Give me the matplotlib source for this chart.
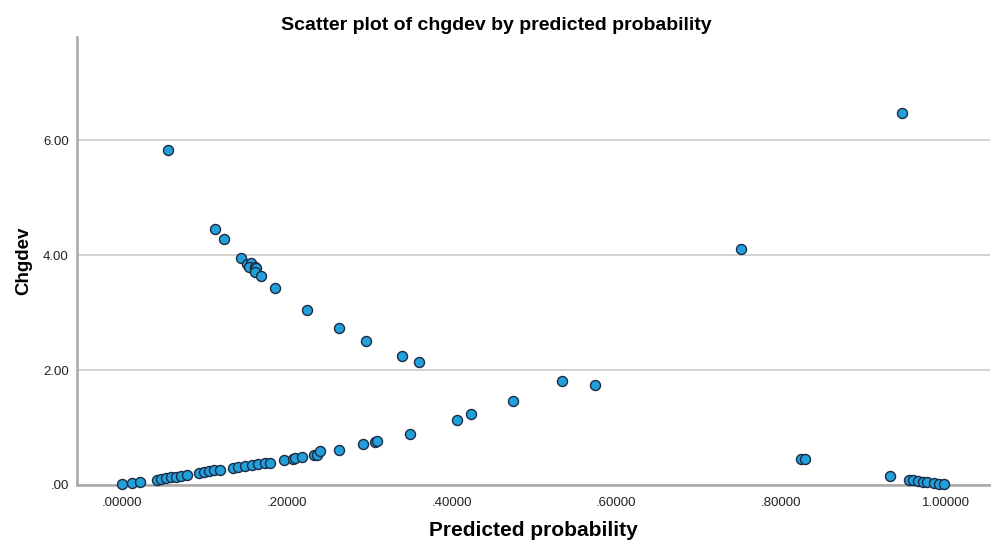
import matplotlib.pyplot as plt

plt.rcParams["font.family"] = ["Liberation Sans", "DejaVu Sans"]

# predicted probability / chgdev pairs
prob_low = [0.000, 0.012, 0.022, 0.042, 0.047, 0.053, 0.059, 0.065, 0.071, 0.079,
            0.093, 0.099, 0.105, 0.111, 0.119, 0.135, 0.141, 0.149, 0.157, 0.165,
            0.173, 0.179, 0.197, 0.207, 0.210, 0.218, 0.233, 0.236, 0.240, 0.263,
            0.292, 0.307, 0.309, 0.349, 0.406, 0.424, 0.474, 0.534, 0.574]
chg_low = [0.01, 0.03, 0.06, 0.09, 0.10, 0.13, 0.14, 0.145, 0.16, 0.17,
           0.20, 0.22, 0.24, 0.26, 0.26, 0.30, 0.32, 0.33, 0.34, 0.36,
           0.38, 0.39, 0.435, 0.457, 0.464, 0.48, 0.53, 0.52, 0.60, 0.61,
           0.71, 0.75, 0.76, 0.89, 1.13, 1.23, 1.46, 1.81, 1.74]

prob_high = [0.0559, 0.113, 0.123, 0.144, 0.151, 0.156, 0.154, 0.161, 0.162, 0.161,
             0.168, 0.186, 0.224, 0.263, 0.296, 0.340, 0.360]
chg_high = [5.84, 4.45, 4.29, 3.95, 3.84, 3.87, 3.80, 3.80, 3.78, 3.71,
            3.63, 3.43, 3.04, 2.73, 2.50, 2.25, 2.14]

prob_right = [0.752, 0.947, 0.824, 0.829, 0.932, 0.956, 0.960, 0.966, 0.972,
              0.978, 0.986, 0.992, 0.998]
chg_right = [4.10, 6.47, 0.46, 0.45, 0.16, 0.09, 0.09, 0.075, 0.06,
             0.05, 0.03, 0.02, 0.01]

x = prob_low + prob_high + prob_right
y = chg_low + chg_high + chg_right

xticks = [0.0, 0.2, 0.4, 0.6, 0.8, 1.0]
xtick_labels = [".00000", ".20000", ".40000", ".60000", ".80000", "1.00000"]
yticks = [0, 2, 4, 6]
ytick_labels = [".00", "2.00", "4.00", "6.00"]

fig = plt.figure(figsize=(9.91, 5.40), dpi=100)
ax = fig.add_axes([0.0777, 0.1019, 0.9213, 0.8296])

ax.scatter(x, y, s=52, color="#22a0da", edgecolors="#1b2b45",
           linewidths=1.0, zorder=3, clip_on=False)

ax.set_xlim(-0.055, 1.054)
ax.set_ylim(0, 7.8)
ax.set_xticks(xticks)
ax.set_xticklabels(xtick_labels)
ax.set_yticks(yticks)
ax.set_yticklabels(ytick_labels)
ax.tick_params(length=0, labelsize=9.5, colors="#222222")
ax.tick_params(axis="x", pad=9)
ax.tick_params(axis="y", pad=6)

ax.grid(axis="y", color="#d0d0d0", linewidth=1.3, zorder=0)
for side in ["top", "right"]:
    ax.spines[side].set_visible(False)
for side in ["left", "bottom"]:
    ax.spines[side].set_color("#a8a8a8")
    ax.spines[side].set_linewidth(1.8)

ax.set_title("Scatter plot of chgdev by predicted probability",
             fontsize=14, fontweight="bold", pad=5, x=0.459)
ax.set_xlabel("Predicted probability", fontsize=15, fontweight="bold", labelpad=8)
ax.set_ylabel("Chgdev", fontsize=13.5, fontweight="bold", labelpad=8)

fig.savefig("out.png", dpi=100)
